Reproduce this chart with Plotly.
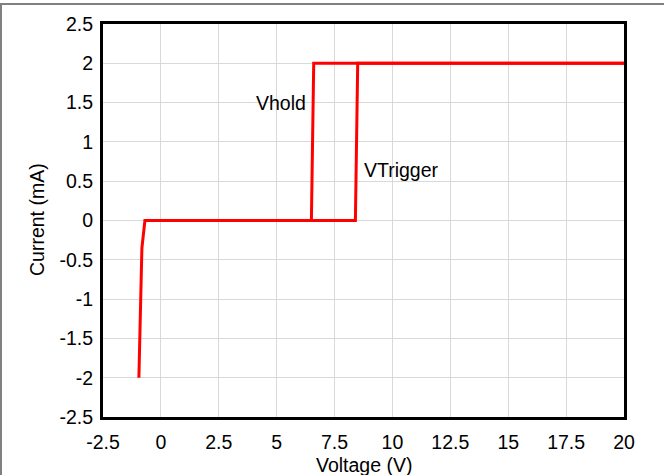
import plotly.graph_objects as go

# I-V sweep of the trigger device (voltage in V, current in mA)
rise_v = [-0.95, -0.82, -0.69, 8.4, 8.5, 20]
rise_i = [-2.0, -0.35, 0.0, 0.0, 2.0, 2.0]
fall_v = [20, 6.6, 6.5, 8.4]
fall_i = [2.0, 2.0, 0.0, 0.0]

x_ticks = [-2.5, 0, 2.5, 5, 7.5, 10, 12.5, 15, 17.5, 20]
y_ticks = [-2.5, -2, -1.5, -1, -0.5, 0, 0.5, 1, 1.5, 2, 2.5]

labels = [("Vhold", 5.17, 1.5), ("VTrigger", 10.39, 0.64)]

W, H = 664, 475
L, R, T, B = 103, 40, 24, 58
FONT = dict(family="Liberation Sans, Arial, sans-serif", size=19.5, color="#000000")
RED = "#ff0000"

fig = go.Figure()
fig.add_trace(go.Scatter(x=rise_v, y=rise_i, mode="lines",
                         line=dict(color=RED, width=3), showlegend=False))
fig.add_trace(go.Scatter(x=fall_v, y=fall_i, mode="lines",
                         line=dict(color=RED, width=3), showlegend=False))

for text, xv, yv in labels:
    fig.add_annotation(x=xv, y=yv, text=text, showarrow=False,
                       font=FONT, xanchor="center", yanchor="middle")

axis_common = dict(showline=True, linecolor="#000000", linewidth=3, mirror=True,
                   showgrid=True, gridcolor="#d9d9d9", gridwidth=1,
                   zeroline=False, ticks="", tickfont=FONT)

fig.update_xaxes(range=[-2.5, 20], tickvals=x_ticks, ticklabelstandoff=6,
                 ticktext=[f"{v:g}" for v in x_ticks], **axis_common)
fig.update_yaxes(range=[-2.5, 2.5], tickvals=y_ticks, ticklabelstandoff=3,
                 ticktext=[f"{v:g}" for v in y_ticks], **axis_common)

pw, ph = W - L - R, H - T - B
# axis titles placed in paper space
fig.add_annotation(text="Voltage (V)", xref="paper", yref="paper",
                   x=0.5, y=(H - B - 465) / ph, showarrow=False,
                   font=FONT, xanchor="center", yanchor="middle")
fig.add_annotation(text="Current (mA)", xref="paper", yref="paper",
                   x=(37 - L) / pw, y=(H - B - 220) / ph, textangle=-90,
                   showarrow=False, font=FONT, xanchor="center", yanchor="middle")

# outer frame around the figure
fig.add_shape(type="rect", xref="paper", yref="paper",
              x0=(1 - L) / pw, x1=(W + 10 - L) / pw,
              y0=-(H + 10 - T - ph) / ph, y1=(H - B - 4) / ph,
              line=dict(color="#808080", width=2), layer="below")

fig.update_layout(width=W, height=H, margin=dict(l=L, r=R, t=T, b=B),
                  paper_bgcolor="#ffffff", plot_bgcolor="#ffffff",
                  font=FONT)
fig.write_html("out.html")
